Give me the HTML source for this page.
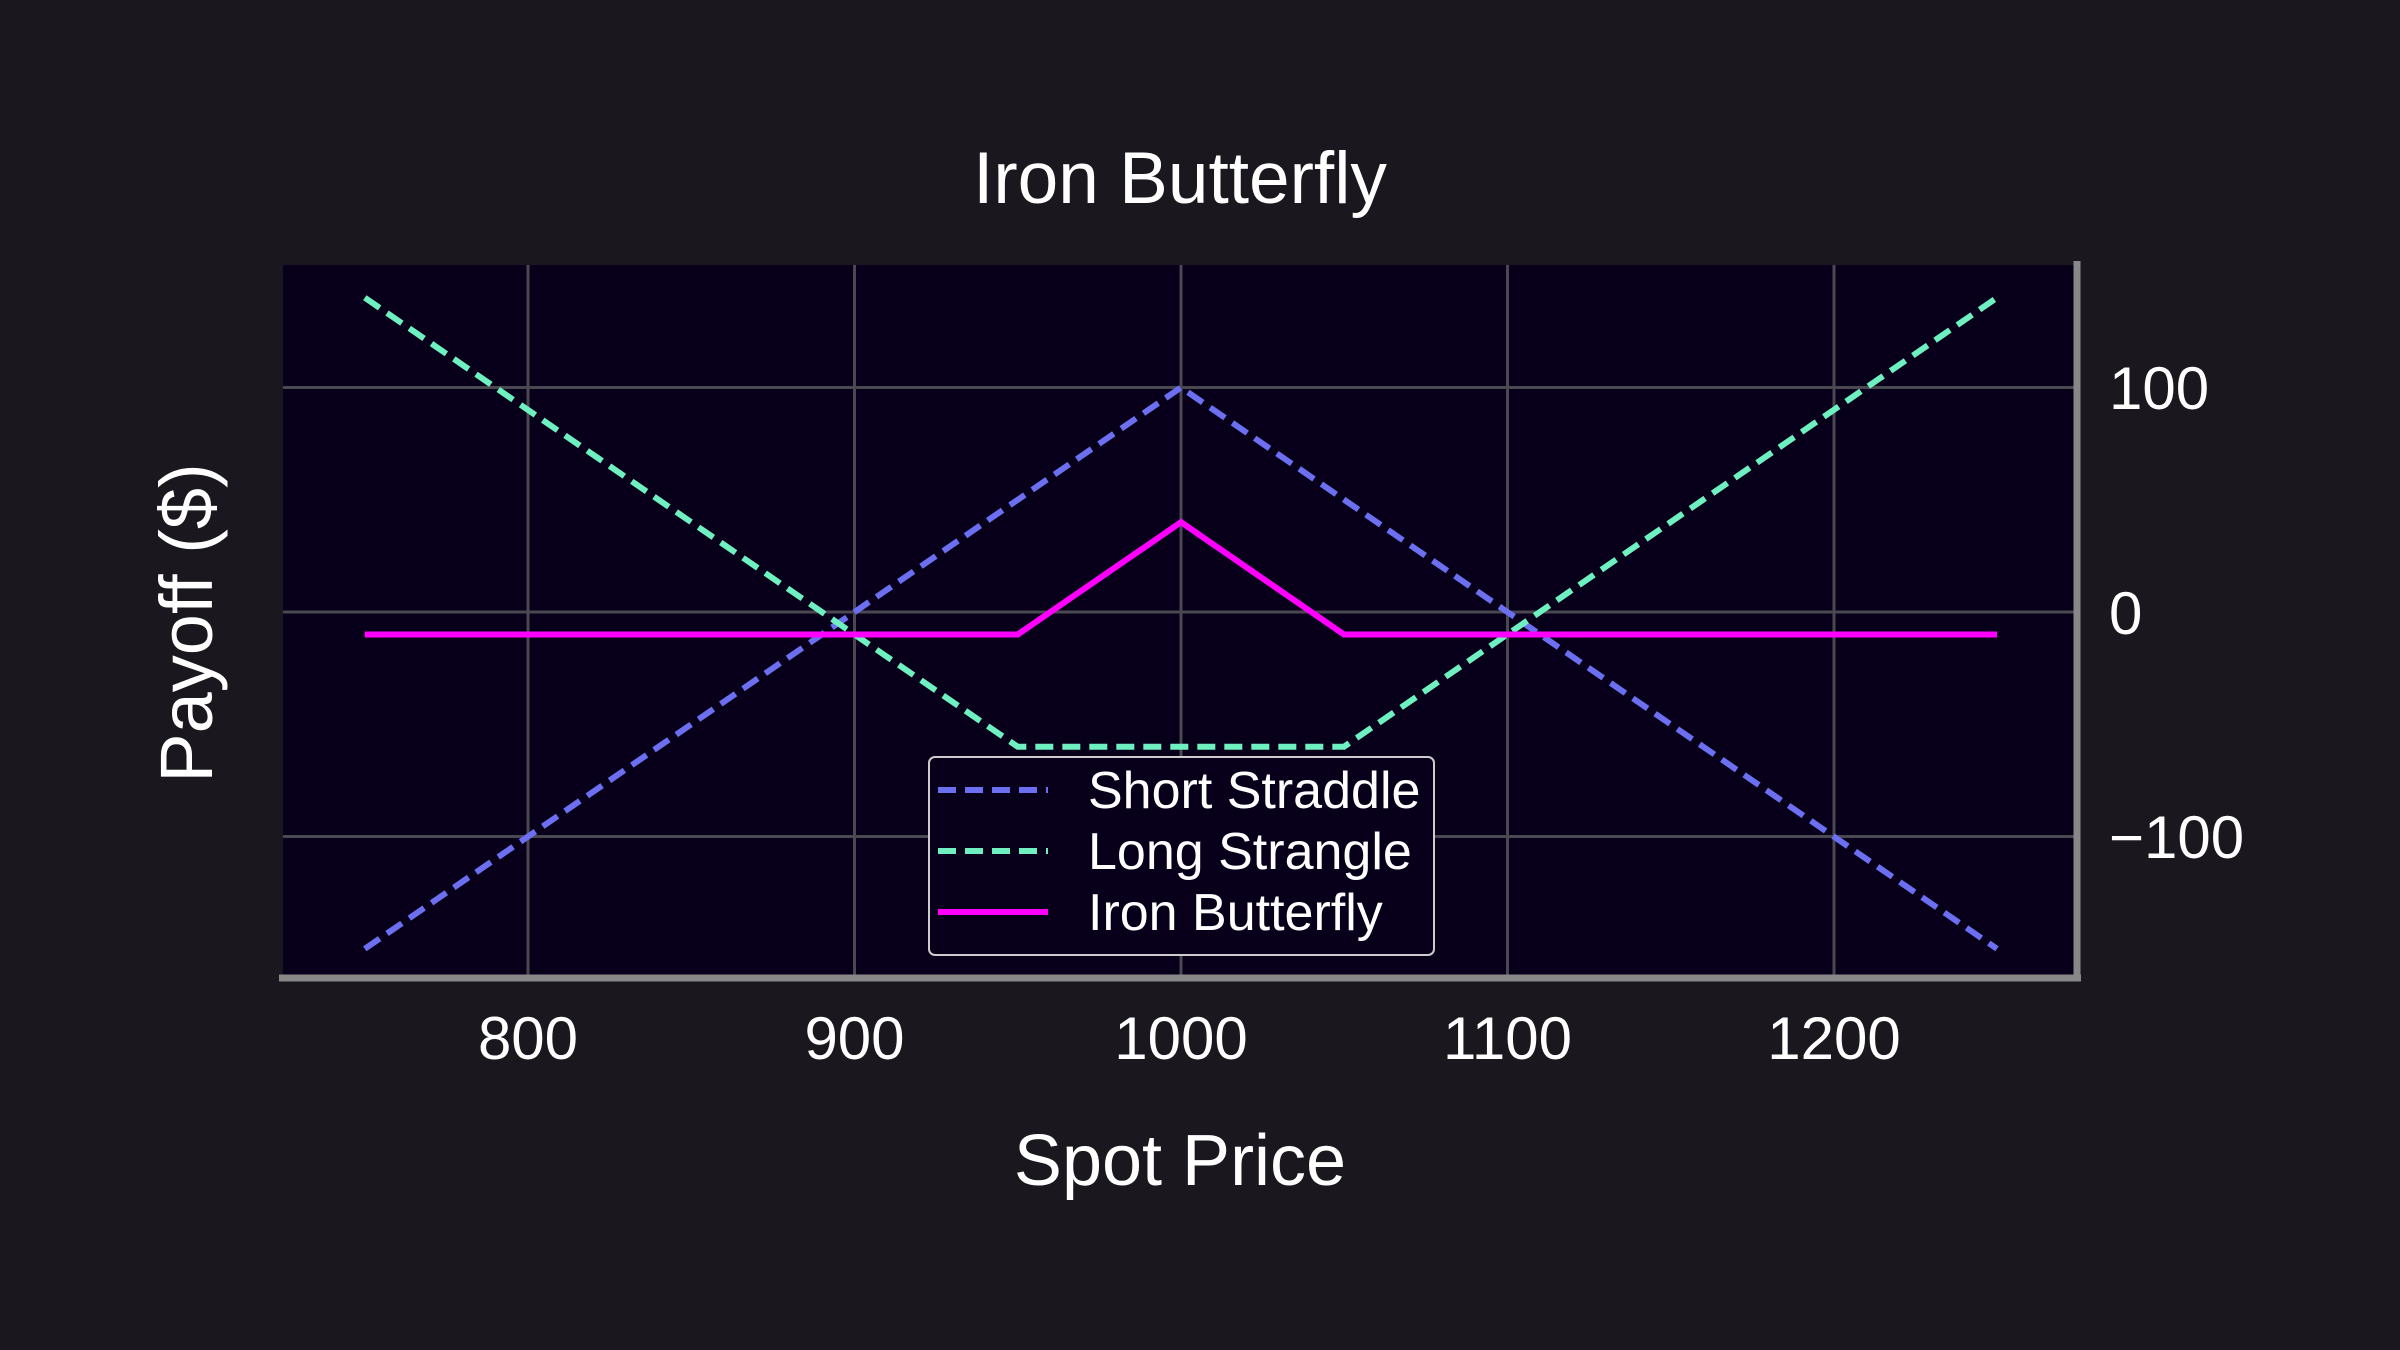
<!DOCTYPE html>
<html><head><meta charset="utf-8"><style>
html,body{margin:0;padding:0;background:#1a181e;}
svg{display:block}
text{font-family:"Liberation Sans",Arial,sans-serif;fill:#ffffff}
</style></head><body>
<svg width="2400" height="1350" viewBox="0 0 2400 1350" xmlns="http://www.w3.org/2000/svg">
<rect width="2400" height="1350" fill="#1a181e"/>
<rect x="283" y="265" width="1794" height="711" fill="#08001a"/>
<g stroke="#4a4850" stroke-width="3">
<line x1="528" y1="265" x2="528" y2="976"/>
<line x1="854.5" y1="265" x2="854.5" y2="976"/>
<line x1="1181" y1="265" x2="1181" y2="976"/>
<line x1="1507.5" y1="265" x2="1507.5" y2="976"/>
<line x1="1834" y1="265" x2="1834" y2="976"/>
<line x1="283" y1="387.5" x2="2077" y2="387.5"/>
<line x1="283" y1="612" x2="2077" y2="612"/>
<line x1="283" y1="836.5" x2="2077" y2="836.5"/>
</g>
<polyline points="364.8,948.8 1181,387.5 1997,948.8" fill="none" stroke="#6b6ff0" stroke-width="6" stroke-dasharray="18,9"/>
<polyline points="364.8,297.7 1017.7,746.7 1344,746.7 1997,297.7" fill="none" stroke="#6ef0c0" stroke-width="6" stroke-dasharray="18,9"/>
<polyline points="364.8,634.5 1017.7,634.5 1181,522.2 1344,634.5 1997,634.5" fill="none" stroke="#ff00ff" stroke-width="6"/>
<line x1="279" y1="978" x2="2081" y2="978" stroke="#888" stroke-width="7"/>
<line x1="2077" y1="261" x2="2077" y2="981" stroke="#888" stroke-width="7"/>
<g font-size="60" text-anchor="middle">
<text x="528" y="1059">800</text>
<text x="854.5" y="1059">900</text>
<text x="1181" y="1059">1000</text>
<text x="1507.5" y="1059">1100</text>
<text x="1834" y="1059">1200</text>
</g>
<g font-size="60">
<text x="2109" y="409">100</text>
<text x="2109" y="634">0</text>
<text x="2109" y="858">−100</text>
</g>
<text x="1180" y="203" font-size="73" text-anchor="middle">Iron Butterfly</text>
<text x="1180" y="1185" font-size="72" text-anchor="middle">Spot Price</text>
<text x="0" y="0" font-size="74" text-anchor="middle" transform="translate(212,623) rotate(-90)">Payoff ($)</text>
<rect x="929" y="757" width="505" height="198" rx="6" fill="#08001a" stroke="#cccccc" stroke-width="2"/>
<line x1="938" y1="790" x2="1048" y2="790" stroke="#6b6ff0" stroke-width="6" stroke-dasharray="18,9"/>
<line x1="938" y1="851" x2="1048" y2="851" stroke="#6ef0c0" stroke-width="6" stroke-dasharray="18,9"/>
<line x1="938" y1="912" x2="1048" y2="912" stroke="#ff00ff" stroke-width="6"/>
<g font-size="52">
<text x="1088" y="808">Short Straddle</text>
<text x="1088" y="869">Long Strangle</text>
<text x="1088" y="930">Iron Butterfly</text>
</g>
</svg>
</body></html>
